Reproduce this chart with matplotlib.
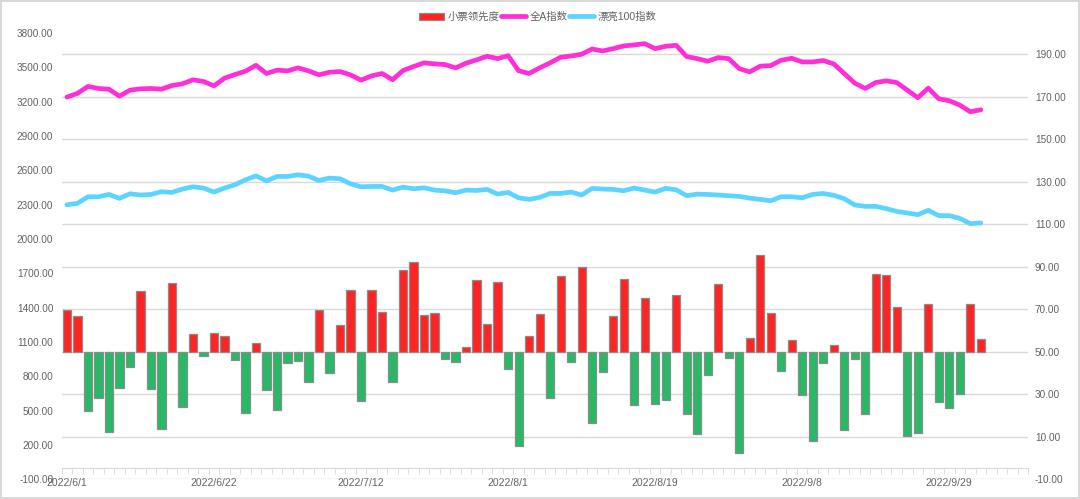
import numpy as np
import matplotlib
matplotlib.use("Agg")
import matplotlib.pyplot as plt
from matplotlib.patches import Patch
from matplotlib.lines import Line2D

plt.rcParams['font.family'] = ['Liberation Sans', 'Noto Sans CJK SC', 'DejaVu Sans']

# 小票领先度 (right axis, centred on 50)
small_lead = [
    69.7, 66.7, 22.3, 28.3, 12.2, 32.8, 43.0, 78.4, 32.7, 13.8,
    82.3, 23.8, 58.3, 48.1, 58.9, 57.2, 45.9, 21.1, 54.1, 32.2,
    22.7, 44.8, 45.8, 35.8, 69.7, 40.2, 62.8, 78.9, 27.0, 79.1,
    68.8, 35.6, 88.6, 92.3, 67.5, 68.1, 46.7, 45.0, 52.3, 83.6,
    63.0, 83.0, 42.0, 5.6, 57.2, 67.8, 28.3, 85.5, 45.3, 89.7,
    16.4, 40.3, 66.6, 84.2, 25.0, 75.5, 25.5, 27.3, 76.9, 20.5,
    11.4, 39.1, 81.7, 47.0, 2.3, 56.7, 95.3, 68.3, 40.8, 55.5,
    29.8, 8.0, 44.5, 53.0, 13.3, 46.4, 20.5, 86.4, 86.1, 71.1,
    10.3, 11.7, 72.3, 26.3, 23.4, 30.0, 72.3, 56.1,
]

# 全A指数 (left axis)
all_a = [
    3240, 3272, 3333, 3315, 3309, 3248, 3300, 3312, 3315, 3309,
    3341, 3356, 3391, 3376, 3338, 3405, 3437, 3466, 3518, 3446,
    3475, 3469, 3495, 3469, 3434, 3457, 3463, 3434, 3388, 3425,
    3446, 3391, 3472, 3507, 3539, 3530, 3524, 3495, 3536, 3565,
    3597, 3576, 3602, 3470, 3446, 3495, 3539, 3588, 3599, 3614,
    3660, 3643, 3663, 3687, 3695, 3707, 3663, 3684, 3692, 3594,
    3576, 3553, 3585, 3576, 3489, 3460, 3510, 3515, 3562, 3579,
    3547, 3547, 3559, 3530, 3446, 3362, 3315, 3367, 3382, 3367,
    3301, 3234, 3318, 3225, 3208, 3170, 3112, 3129,
]

# 漂亮100指数 (left axis)
pretty100 = [
    2299, 2311, 2369, 2369, 2389, 2355, 2395, 2384, 2389, 2413,
    2407, 2436, 2456, 2445, 2410, 2445, 2474, 2517, 2552, 2508,
    2546, 2546, 2561, 2549, 2511, 2532, 2526, 2482, 2456, 2459,
    2459, 2427, 2453, 2439, 2447, 2427, 2421, 2404, 2427, 2424,
    2433, 2392, 2407, 2360, 2346, 2363, 2398, 2398, 2410, 2384,
    2442, 2436, 2433, 2421, 2445, 2427, 2410, 2442, 2430, 2378,
    2392, 2389, 2384, 2378, 2372, 2357, 2346, 2334, 2369, 2369,
    2360, 2389, 2398, 2381, 2352, 2297, 2285, 2285, 2265, 2241,
    2227, 2212, 2250, 2204, 2204, 2180, 2134, 2140,
]

date_labels = ['2022/6/1', '2022/6/22', '2022/7/12', '2022/8/1',
               '2022/8/19', '2022/9/8', '2022/9/29']

RED = '#FF2424'
GREEN = '#28B866'
PINK = '#FF2ED6'
BLUE = '#5CD4FF'
TXT = '#626262'
GRID = '#D9D9D9'
LW = 3.4

n_cat = 92  # axis has a few empty categories after the data
x = np.arange(len(small_lead))
vals = np.array(small_lead)

fig = plt.figure(figsize=(10.8, 4.99), dpi=100)
fig.patch.set_edgecolor(GRID)
fig.patch.set_linewidth(1.5)

# ax: bars + gridlines (right-hand scale)
ax = fig.add_axes([0.0571, 0.0395, 0.8948, 0.8944])
right_lim = (-10, 200)
left_lim = (-100, 3800)
ax.set_ylim(*right_lim)
ax.set_xlim(-0.5, n_cat - 0.5)

colors = [RED if v >= 50 else GREEN for v in vals]
ax.bar(x, vals - 50, bottom=50, width=0.78, color=colors,
       edgecolor='#8C8C8C', linewidth=0.9, zorder=3)

ax.grid(axis='y', color=GRID, linewidth=1)
ax.set_axisbelow(True)

# category axis sits at 0 on the left-hand scale
r0 = right_lim[0] + (0 - left_lim[0]) * (right_lim[1] - right_lim[0]) / (left_lim[1] - left_lim[0])
for s in ['left', 'right', 'top']:
    ax.spines[s].set_visible(False)
ax.spines['bottom'].set_position(('data', r0))
ax.spines['bottom'].set_color(GRID)
ax.set_xticks(np.arange(0, len(small_lead), 14))
ax.set_xticklabels(date_labels)
ax.set_xticks(np.arange(-0.5, n_cat, 1), minor=True)
ax.tick_params(axis='x', which='major', length=0, pad=7, labelsize=7.5, labelcolor=TXT)
ax.tick_params(axis='x', which='minor', length=4, color=GRID, direction='out')

# ax2: index lines (left-hand scale)
ax2 = ax.twinx()
ax2.set_ylim(*left_lim)
for s in ['left', 'right', 'top', 'bottom']:
    ax2.spines[s].set_visible(False)

# twinx moves the ticks, so place them after it
ax.yaxis.tick_right()
ax.set_yticks(np.arange(-10, 191, 20))
ax.set_yticklabels([f'{v:.2f}' for v in np.arange(-10, 191, 20)])
ax.tick_params(axis='y', length=0, pad=5, labelsize=7.2, labelcolor=TXT)

ax2.yaxis.tick_left()
ax2.set_yticks(np.arange(-100, 3801, 300))
ax2.set_yticklabels([f'{v:.2f}' for v in np.arange(-100, 3801, 300)])
ax2.tick_params(axis='y', length=0, pad=6, labelsize=7.2, labelcolor=TXT)

ax2.plot(x, all_a, color=PINK, linewidth=LW, solid_joinstyle='round',
         solid_capstyle='round', zorder=4)
ax2.plot(x, pretty100, color=BLUE, linewidth=LW, solid_joinstyle='round',
         solid_capstyle='round', zorder=4)

handles = [
    Patch(facecolor=RED, edgecolor='#8C8C8C', linewidth=0.9),
    Line2D([0], [0], color=PINK, linewidth=LW, solid_capstyle='round'),
    Line2D([0], [0], color=BLUE, linewidth=LW, solid_capstyle='round'),
]
fig.legend(handles, ['小票领先度', '全A指数', '漂亮100指数'],
           loc='center', bbox_to_anchor=(0.498, 0.966), ncol=3,
           frameon=False, fontsize=7.5, labelcolor=TXT,
           handlelength=2.4, handleheight=0.7, handletextpad=0.3,
           columnspacing=0.2)

fig.savefig('out.png', dpi=100, edgecolor=fig.get_edgecolor())
